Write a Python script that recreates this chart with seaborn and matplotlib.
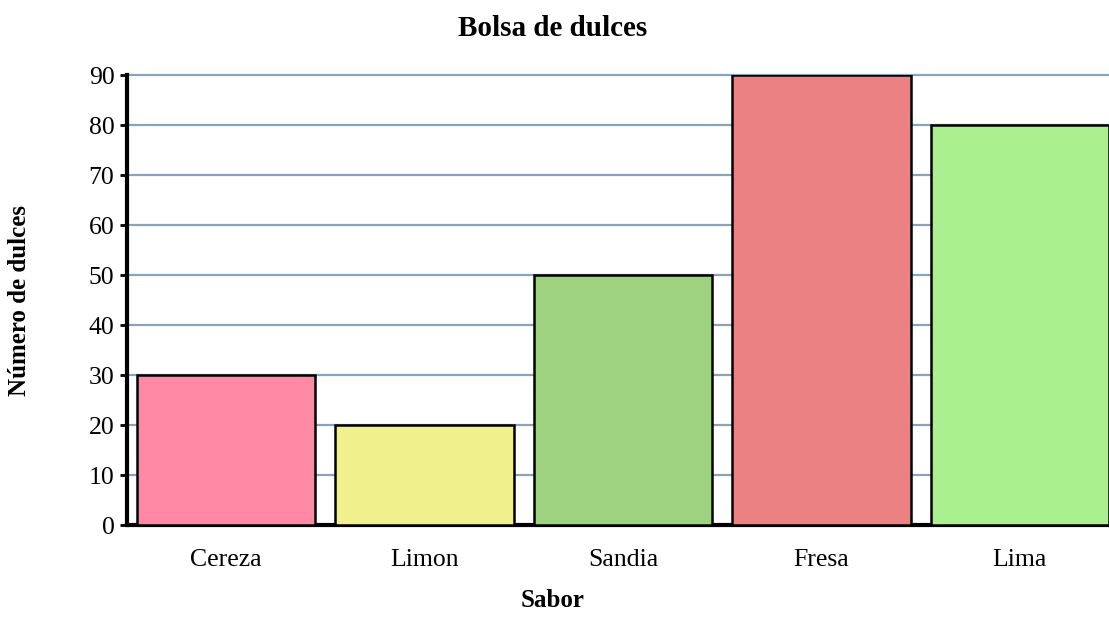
import pandas as pd
import matplotlib.pyplot as plt
import seaborn as sns

# Datos
sabores = ["Cereza", "Limon", "Sandia", "Fresa", "Lima"]
dulces = [30, 20, 50, 90, 80]
colores = ["#FF88A5", "#F0F08C", "#9ED27F", "#EB8181", "#AAF08F"]

df = pd.DataFrame({"Sabor": sabores, "Dulces": dulces})

sns.set_style("white")
plt.rcParams['font.family'] = ['Liberation Serif', 'DejaVu Serif']
plt.rcParams['text.color'] = 'black'
plt.rcParams['xtick.color'] = 'black'
plt.rcParams['ytick.color'] = 'black'
plt.rcParams['axes.labelcolor'] = 'black'

fig = plt.figure(figsize=(11.09, 6.35), dpi=100)
ax = fig.add_axes([127 / 1109, 110 / 635, 992 / 1109, 450 / 635])

sns.barplot(data=df, x="Sabor", y="Dulces", hue="Sabor", palette=colores,
            width=0.9, edgecolor="black", linewidth=1.8, legend=False,
            saturation=1, ax=ax, zorder=3)

ax.set_ylim(0, 90)
ax.set_xlim(-0.5, 4.5)
ax.set_yticks(range(0, 91, 10))
ax.yaxis.grid(True, color="#86A4BE", linewidth=1.6, zorder=0)
ax.set_axisbelow(True)
for gl in ax.get_ygridlines():
    gl.set_clip_on(False)

for s in ["top", "right"]:
    ax.spines[s].set_visible(False)
ax.spines["left"].set_linewidth(3)
ax.spines["bottom"].set_linewidth(3)
ax.spines["left"].set_color("black")
ax.spines["bottom"].set_color("black")

ax.tick_params(axis="y", left=True, length=5, width=2, color="black",
               labelsize=18.5, pad=4)
ax.tick_params(axis="x", bottom=False, labelsize=18.5, pad=14)

ax.set_xlabel("Sabor", fontsize=18, fontweight="bold")
ax.set_ylabel("Número de dulces", fontsize=18, fontweight="bold")
ax.xaxis.set_label_coords((553 - 127) / 992, (525 - 589) / 450)
ax.yaxis.set_label_coords((31 - 127) / 992, 0.5)
fig.text(553 / 1109, 1 - 28 / 635, "Bolsa de dulces", ha="center", va="center",
         fontsize=21, fontweight="bold")

fig.savefig("out.png", dpi=100)
